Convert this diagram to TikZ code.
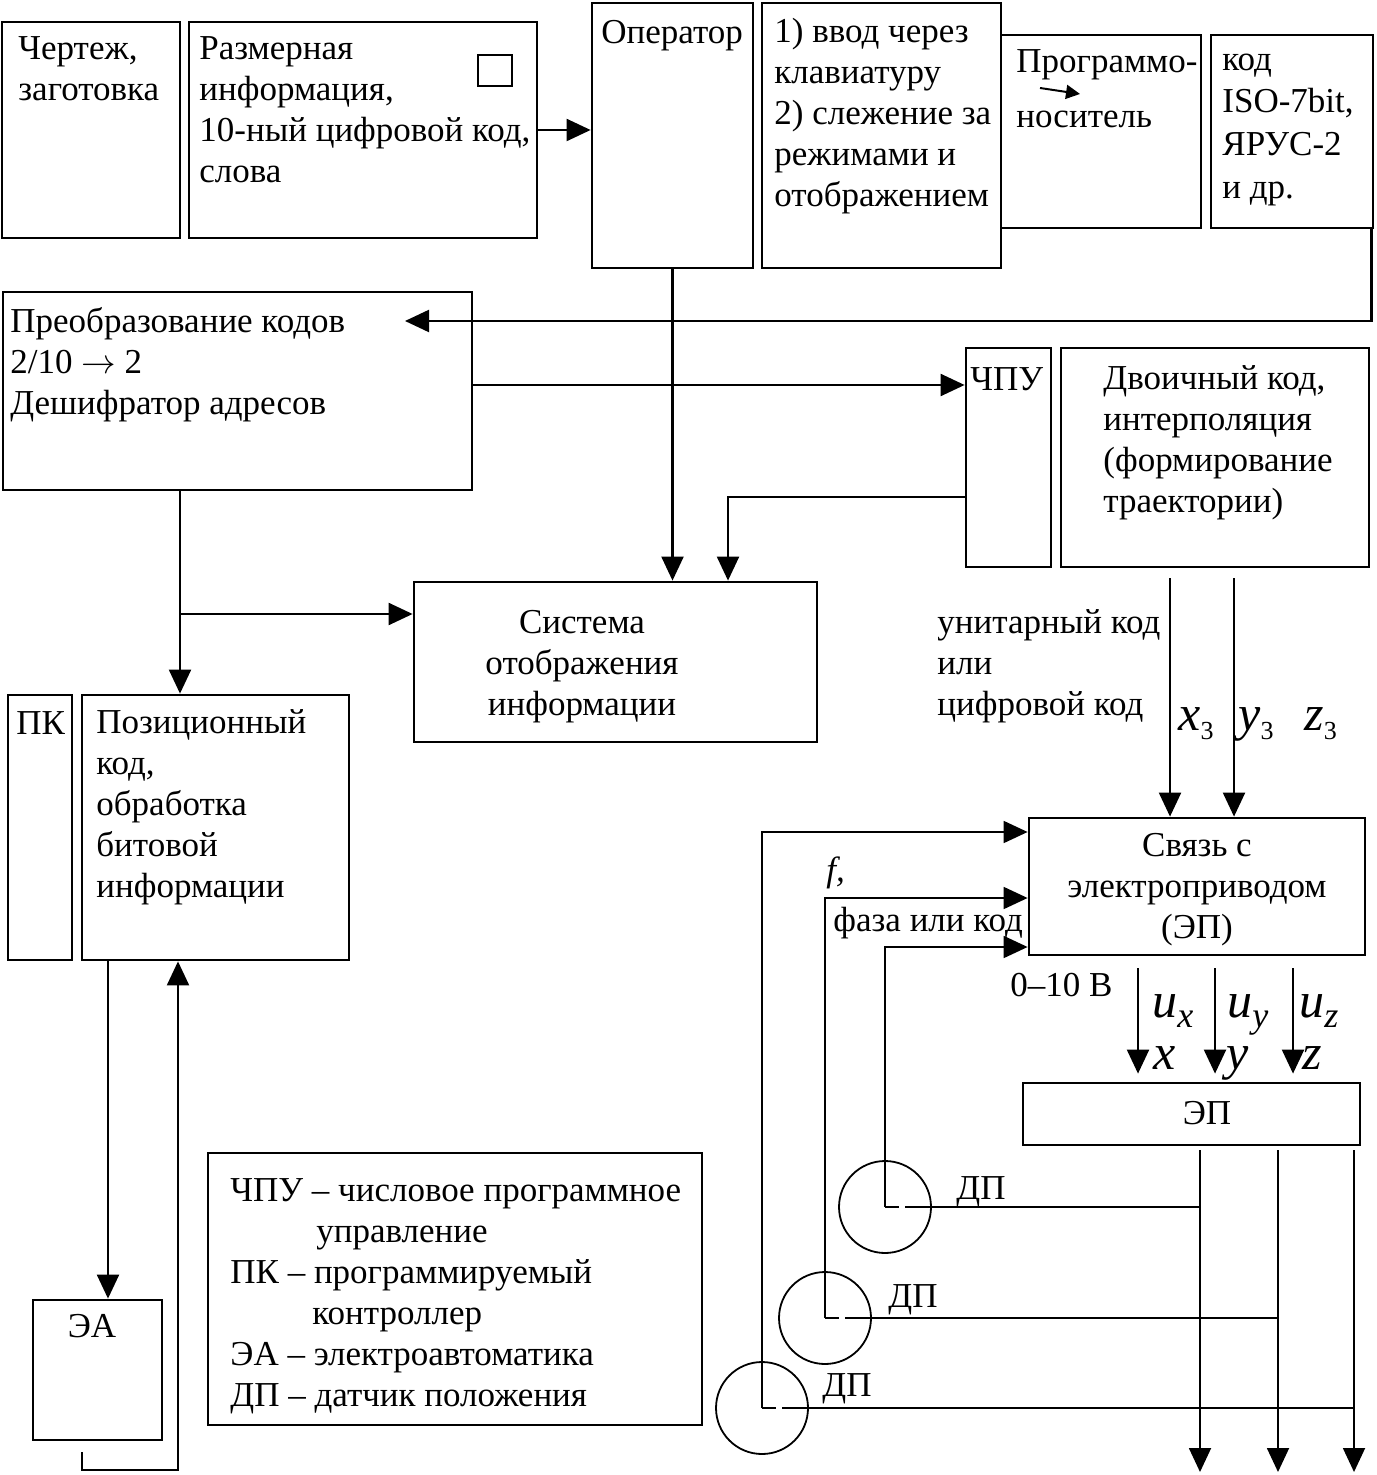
\documentclass[tikz,border=0pt]{standalone}
\usepackage{fontspec}
\setmainfont{Liberation Serif}
\usetikzlibrary{arrows.meta,fit,calc}

\tikzset{
  blk/.style={draw,line width=1.4pt,inner sep=0pt},
  txt/.style={anchor=north west,inner sep=0pt,align=left,
    font=\fontsize{17.5}{20.5}\selectfont,execute at begin node=\strut},
  big/.style={anchor=base west,inner sep=0pt,font=\fontsize{25}{27}\selectfont\itshape},
  arr/.style={-{Triangle[length=12pt,width=11pt]},line width=1.1pt},
  thinln/.style={line width=0.9pt},
  sens/.style={circle,draw,line width=0.9pt,minimum size=46pt,inner sep=0pt},
}
\newcommand{\lowidx}[1]{\raisebox{-0.4ex}{\fontsize{13}{13}\selectfont #1}}
\newcommand{\axidx}[1]{\raisebox{-0.45ex}{\fontsize{18}{18}\selectfont #1}}

\begin{document}
\begin{tikzpicture}[x=0.5pt,y=-0.5pt]
\useasboundingbox (0,0) rectangle (1376,1475);

% top row
\node (drw) [blk,fit={(2,22) (180,238)}] {};
\node (size) [blk,fit={(189,22) (537,238)}] {};
\node (mark) [draw,line width=1.2pt,inner sep=0pt,fit={(478,55) (512,86)}] {};
\node (oper) [blk,fit={(592,3) (753,268)}] {};
\node (keys) [blk,fit={(762,3) (1001,268)}] {};
\node (media) [blk,fit={(1001,35) (1201,228)}] {};
\node (code) [blk,fit={(1211,35) (1373,228)}] {};

\node (drwt) [txt] at (18,36) {Чертеж,\\заготовка};
\node (sizet) [txt] at (199,36) {Размерная\\информация,\\10-ный цифровой код,\\слова};
\node (opert) [txt] at (601,14) {Оператор};
\node (keyst) [txt] at (774,18) {1) ввод через\\клавиатуру\\2) слежение за\\режимами и\\отображением};
\node (mediat) [txt] at (1016,49) {Программо-\\[7pt]носитель};
\node (codet) [txt,font=\fontsize{17.5}{21.3}\selectfont] at (1222,40) {\strut код\\ISO-7bit,\\ЯРУС-2\\и др.};
\coordinate (mA) at (1040,88);
\coordinate (mB) at (1080,94);
\draw [-{Triangle[length=7pt,width=7pt]},line width=1pt] (mA) -- (mB);

\draw [arr] (size.east) -- (size.east -| oper.west);

% code conversion and CNC
\node (conv) [blk,fit={(3,292) (472,490)}] {};
\node (convt) [txt] at (10,307) {Преобразование кодов\\2/10 $\rightarrow$ 2\\Дешифратор адресов};
\coordinate (convin) at (405,321);
\draw [arr] ([xshift=-1.5pt]code.south east) |- (convin);

\node (cnc) [blk,fit={(966,348) (1051,567)}] {};
\node (bin) [blk,fit={(1061,348) (1369,567)}] {};
\node (cnct) [txt] at (970,361) {ЧПУ};
\node (bint) [txt] at (1103,365) {Двоичный код,\\интерполяция\\(формирование\\траектории)};
\coordinate (jE) at (0,385);
\draw [arr] (conv.east |- jE) -- (cnc.west |- jE);

% display
\node (disp) [blk,fit={(414,582) (817,742)}] {};
\node (dispt) [txt,anchor=north,align=center] at (582,610) {Система\\отображения\\информации};
\draw [arr] (oper.south) -- (oper.south |- disp.north);
\coordinate (jD) at (728,497);
\draw [arr] (cnc.west |- jD) -| (jD |- disp.north);

% PLC
\node (pk) [blk,fit={(8,695) (72,960)}] {};
\node (pos) [blk,fit={(82,695) (349,960)}] {};
\node (pkt) [txt] at (16,705) {ПК};
\node (post) [txt] at (96,709) {Позиционный\\код,\\обработка\\битовой\\информации};
\coordinate (jA) at (180,614);
\draw [arr] (jA |- conv.south) -- (jA |- pos.north);
\draw [arr] (jA) -- (jA -| disp.west);

\node (ea) [blk,fit={(33,1300) (162,1440)}] {};
\node (eat) [txt,anchor=north] at (92,1308) {ЭА};
\coordinate (jB) at (108,1100);
\draw [arr] (jB |- pos.south) -- (jB |- ea.north);
\coordinate (eaout) at (82,1452);
\coordinate (jC) at (178,1470);
\draw [arr] (eaout) |- (jC) -- (jC |- pos.south);

% legend
\node (leg) [blk,fit={(208,1153) (702,1425)}] {};
\node (legt) [txt] at (230,1178) {ЧПУ – числовое программное\\\hspace*{43pt}управление\\ПК – программируемый\\\hspace*{41pt}контроллер\\ЭА – электроавтоматика\\ДП – датчик положения};

% drive link
\node (unit) [txt] at (937,609) {унитарный код\\или\\цифровой код};
\coordinate (xin) at (1170,578);
\coordinate (yin) at (1234,578);
\node (link) [blk,fit={(1029,818) (1365,955)}] {};
\node (linkt) [txt,anchor=north,align=center] at (1197,833) {Связь с\\электроприводом\\(ЭП)};
\draw [arr] (xin) -- (xin |- link.north);
\draw [arr] (yin) -- (yin |- link.north);
\node (xl) [big] at (1178,730) {x\lowidx{\upshape 3}};
\node (yl) [big] at (1238,730) {y\lowidx{\upshape 3}};
\node (zl) [big] at (1304,730) {z\lowidx{\upshape 3}};

% position sensors
\node (dp1) [sens] at (885,1207) {};
\node (dp2) [sens] at (825,1318) {};
\node (dp3) [sens] at (762,1408) {};
\node (dp1t) [txt] at (956,1170) {ДП};
\node (dp2t) [txt] at (888,1278) {ДП};
\node (dp3t) [txt] at (822,1367) {ДП};
\coordinate (fb1) at (0,832);
\coordinate (fb2) at (0,898);
\coordinate (fb3) at (0,947);
\draw [arr,line width=0.9pt] (dp3.center) |- (link.west |- fb1);
\draw [arr,line width=0.9pt] (dp2.center) |- (link.west |- fb2);
\draw [arr,line width=0.9pt] (dp1.center) |- (link.west |- fb3);
\node (fl) [txt] at (826,852) {\itshape f,};
\node (phase) [txt] at (833,902) {фаза или код};

% drive
\node (ep) [blk,fit={(1023,1083) (1360,1145)}] {};
\node (ept) [txt,anchor=north] at (1207,1095) {ЭП};
\node (volt) [txt] at (1010,967) {0–10 В};
\coordinate (ux) at (1138,968);
\coordinate (uy) at (1215,968);
\coordinate (uz) at (1293,968);
\draw [arr,shorten >=4pt] (ux) -- (ux |- ep.north);
\draw [arr,shorten >=4pt] (uy) -- (uy |- ep.north);
\draw [arr,shorten >=4pt] (uz) -- (uz |- ep.north);
\node (uxl) [big] at (1152,1017) {u\axidx{x}};
\node (uyl) [big] at (1227,1017) {u\axidx{y}};
\node (uzl) [big] at (1299,1017) {u\axidx{z}};
\node (xa) [big] at (1153,1069) {x};
\node (ya) [big] at (1226,1069) {y};
\node (za) [big] at (1302,1069) {z};

\coordinate (o1) at (1200,1472);
\coordinate (o2) at (1278,1472);
\coordinate (o3) at (1354,1472);
\draw [arr,line width=0.9pt] ([yshift=-2pt]o1 |- ep.south) -- (o1);
\draw [arr,line width=0.9pt] ([yshift=-2pt]o2 |- ep.south) -- (o2);
\draw [arr,line width=0.9pt] ([yshift=-2pt]o3 |- ep.south) -- (o3);
\draw [thinln] (dp1.center) -- ++(14,0);
\draw [thinln] ($(dp1.center)+(20,0)$) -- (o1 |- dp1.center);
\draw [thinln] (dp2.center) -- ++(14,0);
\draw [thinln] ($(dp2.center)+(20,0)$) -- (o2 |- dp2.center);
\draw [thinln] (dp3.center) -- ++(14,0);
\draw [thinln] ($(dp3.center)+(20,0)$) -- (o3 |- dp3.center);
\end{tikzpicture}
\end{document}
